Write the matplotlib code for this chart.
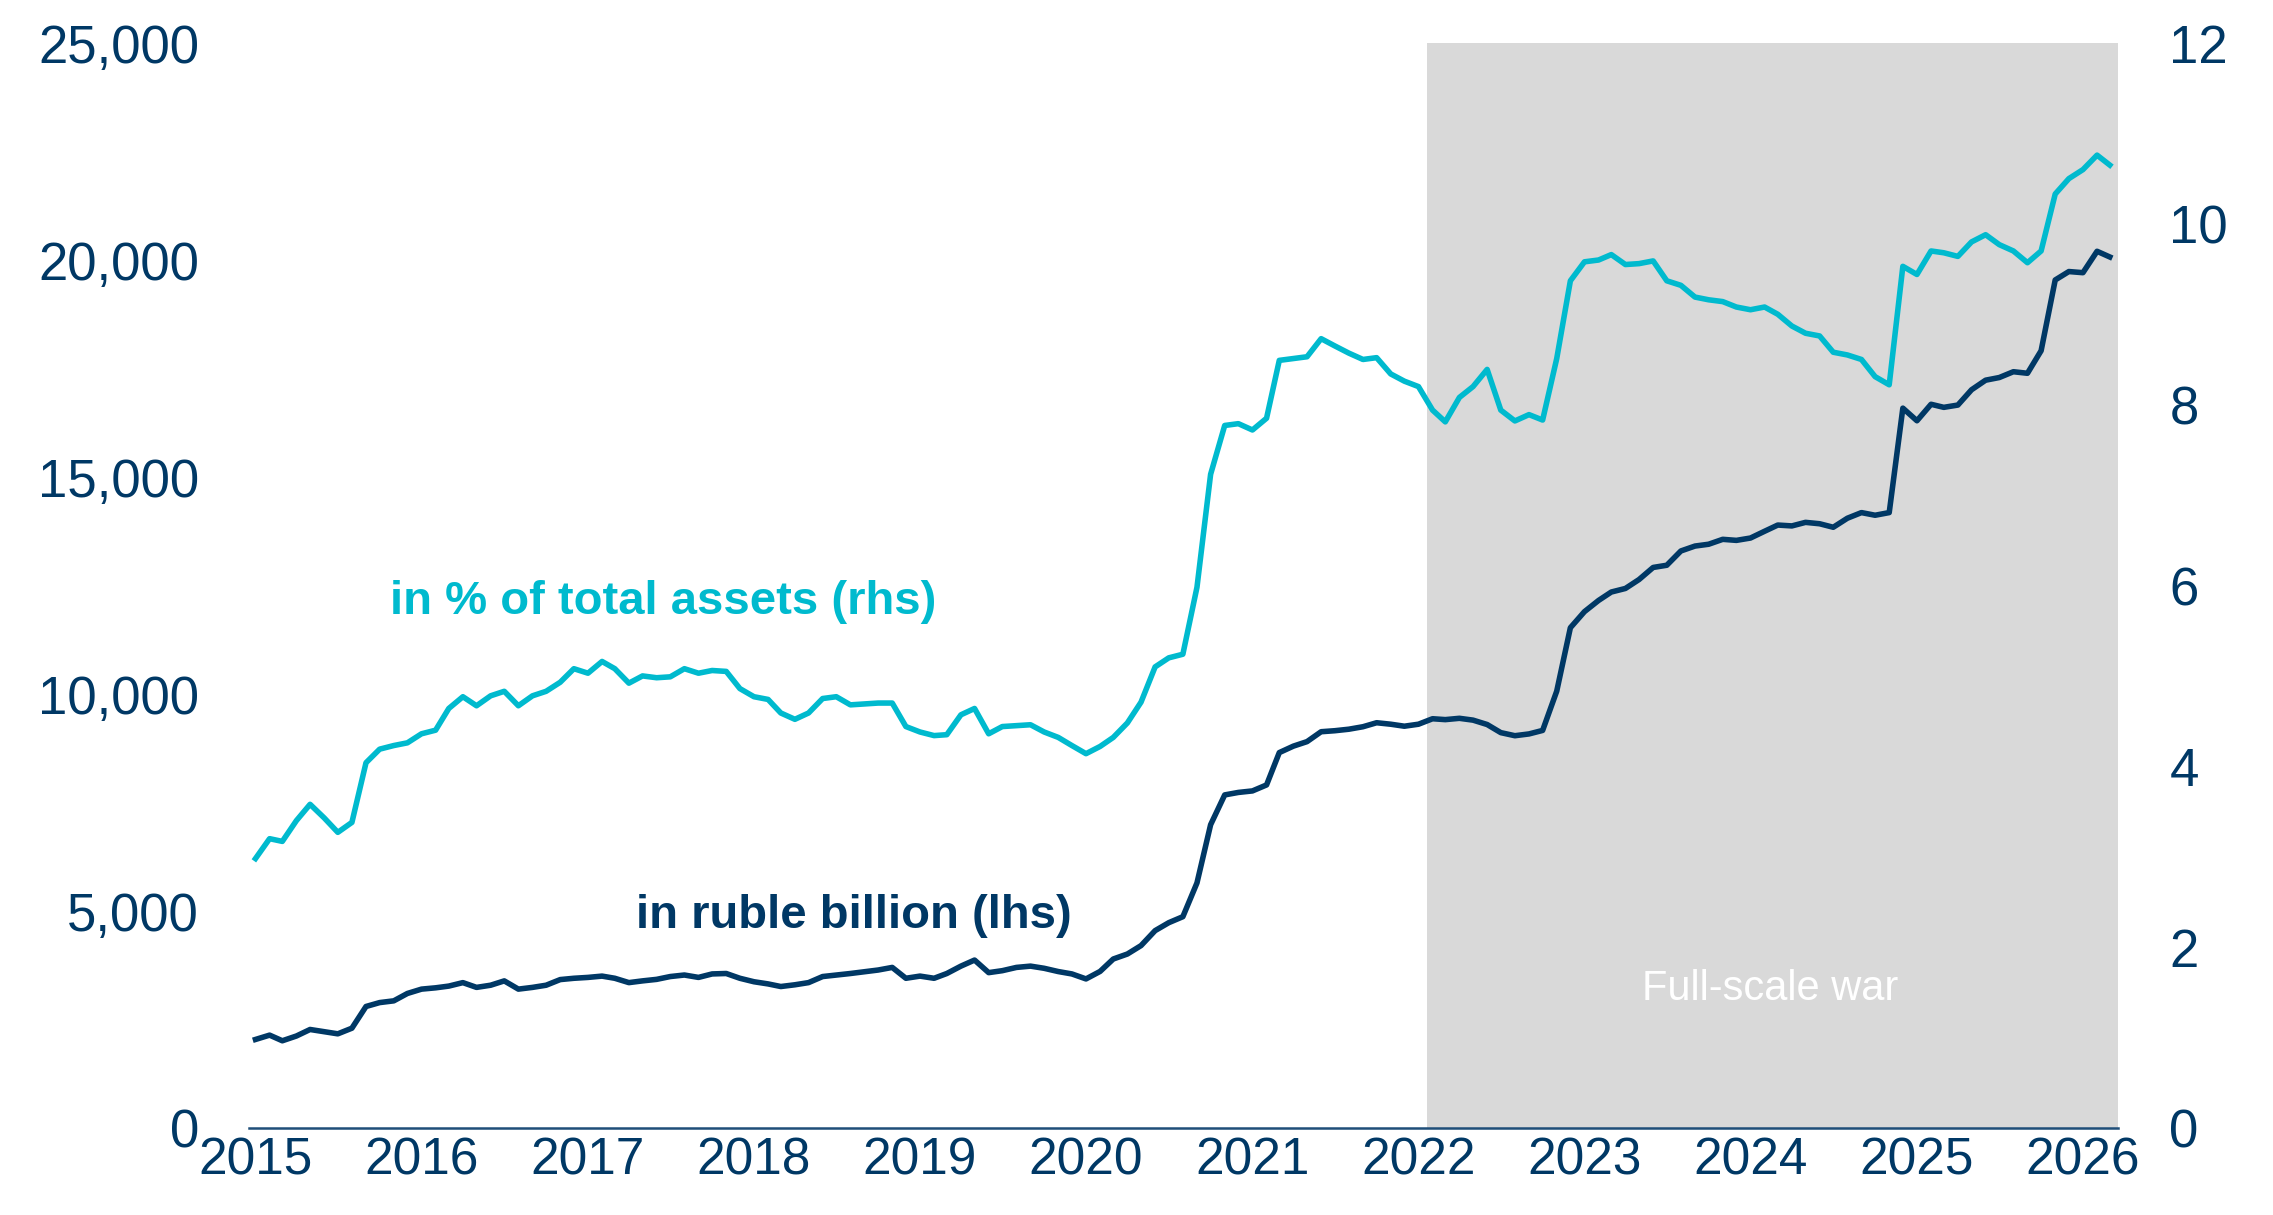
import pandas as pd
import matplotlib
matplotlib.use('Agg')
import matplotlib.pyplot as plt
import matplotlib.dates as mdates
from matplotlib.ticker import FuncFormatter

plt.rcParams['font.family'] = ['Liberation Sans', 'DejaVu Sans']

navy = '#003865'
cyan = '#00BACE'
grey = '#D9D9D9'

# monthly, Jan 2015 - Mar 2026
dates = pd.date_range('2015-01-01', periods=135, freq='MS')

# in ruble billion (lhs)
rub_bn = [2040, 2140, 2010, 2120, 2270, 2220, 2170, 2300, 2800, 2890,
          2930, 3100, 3200, 3230, 3270, 3350, 3240, 3290, 3390, 3200,
          3240, 3290, 3420, 3450, 3470, 3500, 3450, 3350, 3390, 3425,
          3490, 3525, 3470, 3550, 3560, 3450, 3370, 3320, 3260, 3300,
          3350, 3490, 3525, 3560, 3600, 3640, 3700, 3450, 3500, 3450,
          3560, 3730, 3870, 3580, 3625, 3700, 3730, 3680, 3605, 3550,
          3435, 3608, 3894, 4009, 4203, 4548, 4731, 4869, 5647, 6988,
          7675, 7732, 7767, 7905, 8650, 8799, 8903, 9131, 9154, 9189,
          9246, 9338, 9304, 9258, 9304, 9430, 9410, 9440, 9398, 9297,
          9110, 9039, 9080, 9161, 10066, 11527, 11898, 12156, 12350, 12432,
          12638, 12916, 12967, 13296, 13409, 13451, 13564, 13540, 13594, 13750,
          13893, 13873, 13955, 13923, 13842, 14050, 14180, 14119, 14180, 16587,
          16296, 16676, 16605, 16658, 17010, 17231, 17292, 17426, 17390, 17910,
          19540, 19734, 19708, 20201, 20070]

# in % of total assets (rhs)
pct_assets = [2.98, 3.20, 3.17, 3.40, 3.58, 3.43, 3.27, 3.38, 4.04, 4.19,
              4.23, 4.26, 4.36, 4.40, 4.64, 4.77, 4.67, 4.78, 4.83, 4.67,
              4.78, 4.83, 4.93, 5.08, 5.03, 5.16, 5.08, 4.92, 5.00, 4.98,
              4.99, 5.08, 5.03, 5.06, 5.05, 4.86, 4.77, 4.74, 4.59, 4.52,
              4.59, 4.75, 4.77, 4.68, 4.69, 4.70, 4.70, 4.44, 4.38, 4.34,
              4.35, 4.57, 4.64, 4.36, 4.44, 4.45, 4.46, 4.38, 4.32, 4.23,
              4.14, 4.22, 4.32, 4.48, 4.71, 5.10, 5.20, 5.24, 5.98, 7.23,
              7.77, 7.79, 7.72, 7.85, 8.49, 8.51, 8.53, 8.73, 8.65, 8.57,
              8.50, 8.52, 8.34, 8.26, 8.20, 7.94, 7.81, 8.08, 8.20, 8.39,
              7.94, 7.82, 7.89, 7.83, 8.51, 9.37, 9.58, 9.60, 9.66, 9.55,
              9.56, 9.59, 9.37, 9.32, 9.19, 9.16, 9.14, 9.08, 9.05, 9.08,
              9.00, 8.87, 8.79, 8.76, 8.58, 8.55, 8.50, 8.31, 8.22, 9.53,
              9.44, 9.70, 9.68, 9.64, 9.80, 9.88, 9.77, 9.70, 9.57, 9.70,
              10.33, 10.50, 10.60, 10.76, 10.65]

years = list(range(2015, 2027))
war_start = pd.Timestamp('2022-01-20')
x_end = pd.Timestamp('2026-03-19')

fig = plt.figure(figsize=(22.73, 12.15), dpi=100)
ax = fig.add_subplot(111)
fig.subplots_adjust(left=0.1096, right=0.9318, bottom=0.0716, top=0.9646)
ax2 = ax.twinx()

ax.axvspan(war_start, x_end, color=grey, lw=0, zorder=0)
ax.plot(dates, rub_bn, color=navy, lw=4, zorder=3)
ax2.plot(dates, pct_assets, color=cyan, lw=4, zorder=3)

ax.set_xlim(pd.Timestamp('2014-12-18'), x_end)
ax.set_ylim(0, 25000)
ax2.set_ylim(0, 12)
ax.set_yticks(range(0, 25001, 5000))
ax2.set_yticks(range(0, 13, 2))
ax.yaxis.set_major_formatter(FuncFormatter(lambda v, p: f'{int(v):,}'))
ax.set_xticks([pd.Timestamp(f'{y}-01-01') for y in years])
ax.xaxis.set_major_formatter(mdates.DateFormatter('%Y'))

for a in (ax, ax2):
    for s in ('top', 'left', 'right'):
        a.spines[s].set_visible(False)
ax2.spines['bottom'].set_visible(False)
ax.spines['bottom'].set_color('#1F4E79')
ax.spines['bottom'].set_linewidth(1.8)
ax.spines['bottom'].set_zorder(5)

ax.tick_params(axis='x', length=0, pad=6, labelsize=37, labelcolor=navy)
ax.tick_params(axis='y', length=0, pad=36, labelsize=38, labelcolor=navy)
ax2.tick_params(axis='y', length=0, pad=37, labelsize=38, labelcolor=navy)

ax.text(pd.Timestamp('2017-06-15'), 12119, 'in % of total assets (rhs)',
        color=cyan, fontsize=34, fontweight='bold', ha='center', va='center')
ax.text(pd.Timestamp('2018-08-08'), 4884, 'in ruble billion (lhs)',
        color=navy, fontsize=34, fontweight='bold', ha='center', va='center')
ax.text(pd.Timestamp('2024-02-14'), 3203, 'Full-scale war',
        color='white', fontsize=30, ha='center', va='center')

fig.savefig('out.png', dpi=100)
